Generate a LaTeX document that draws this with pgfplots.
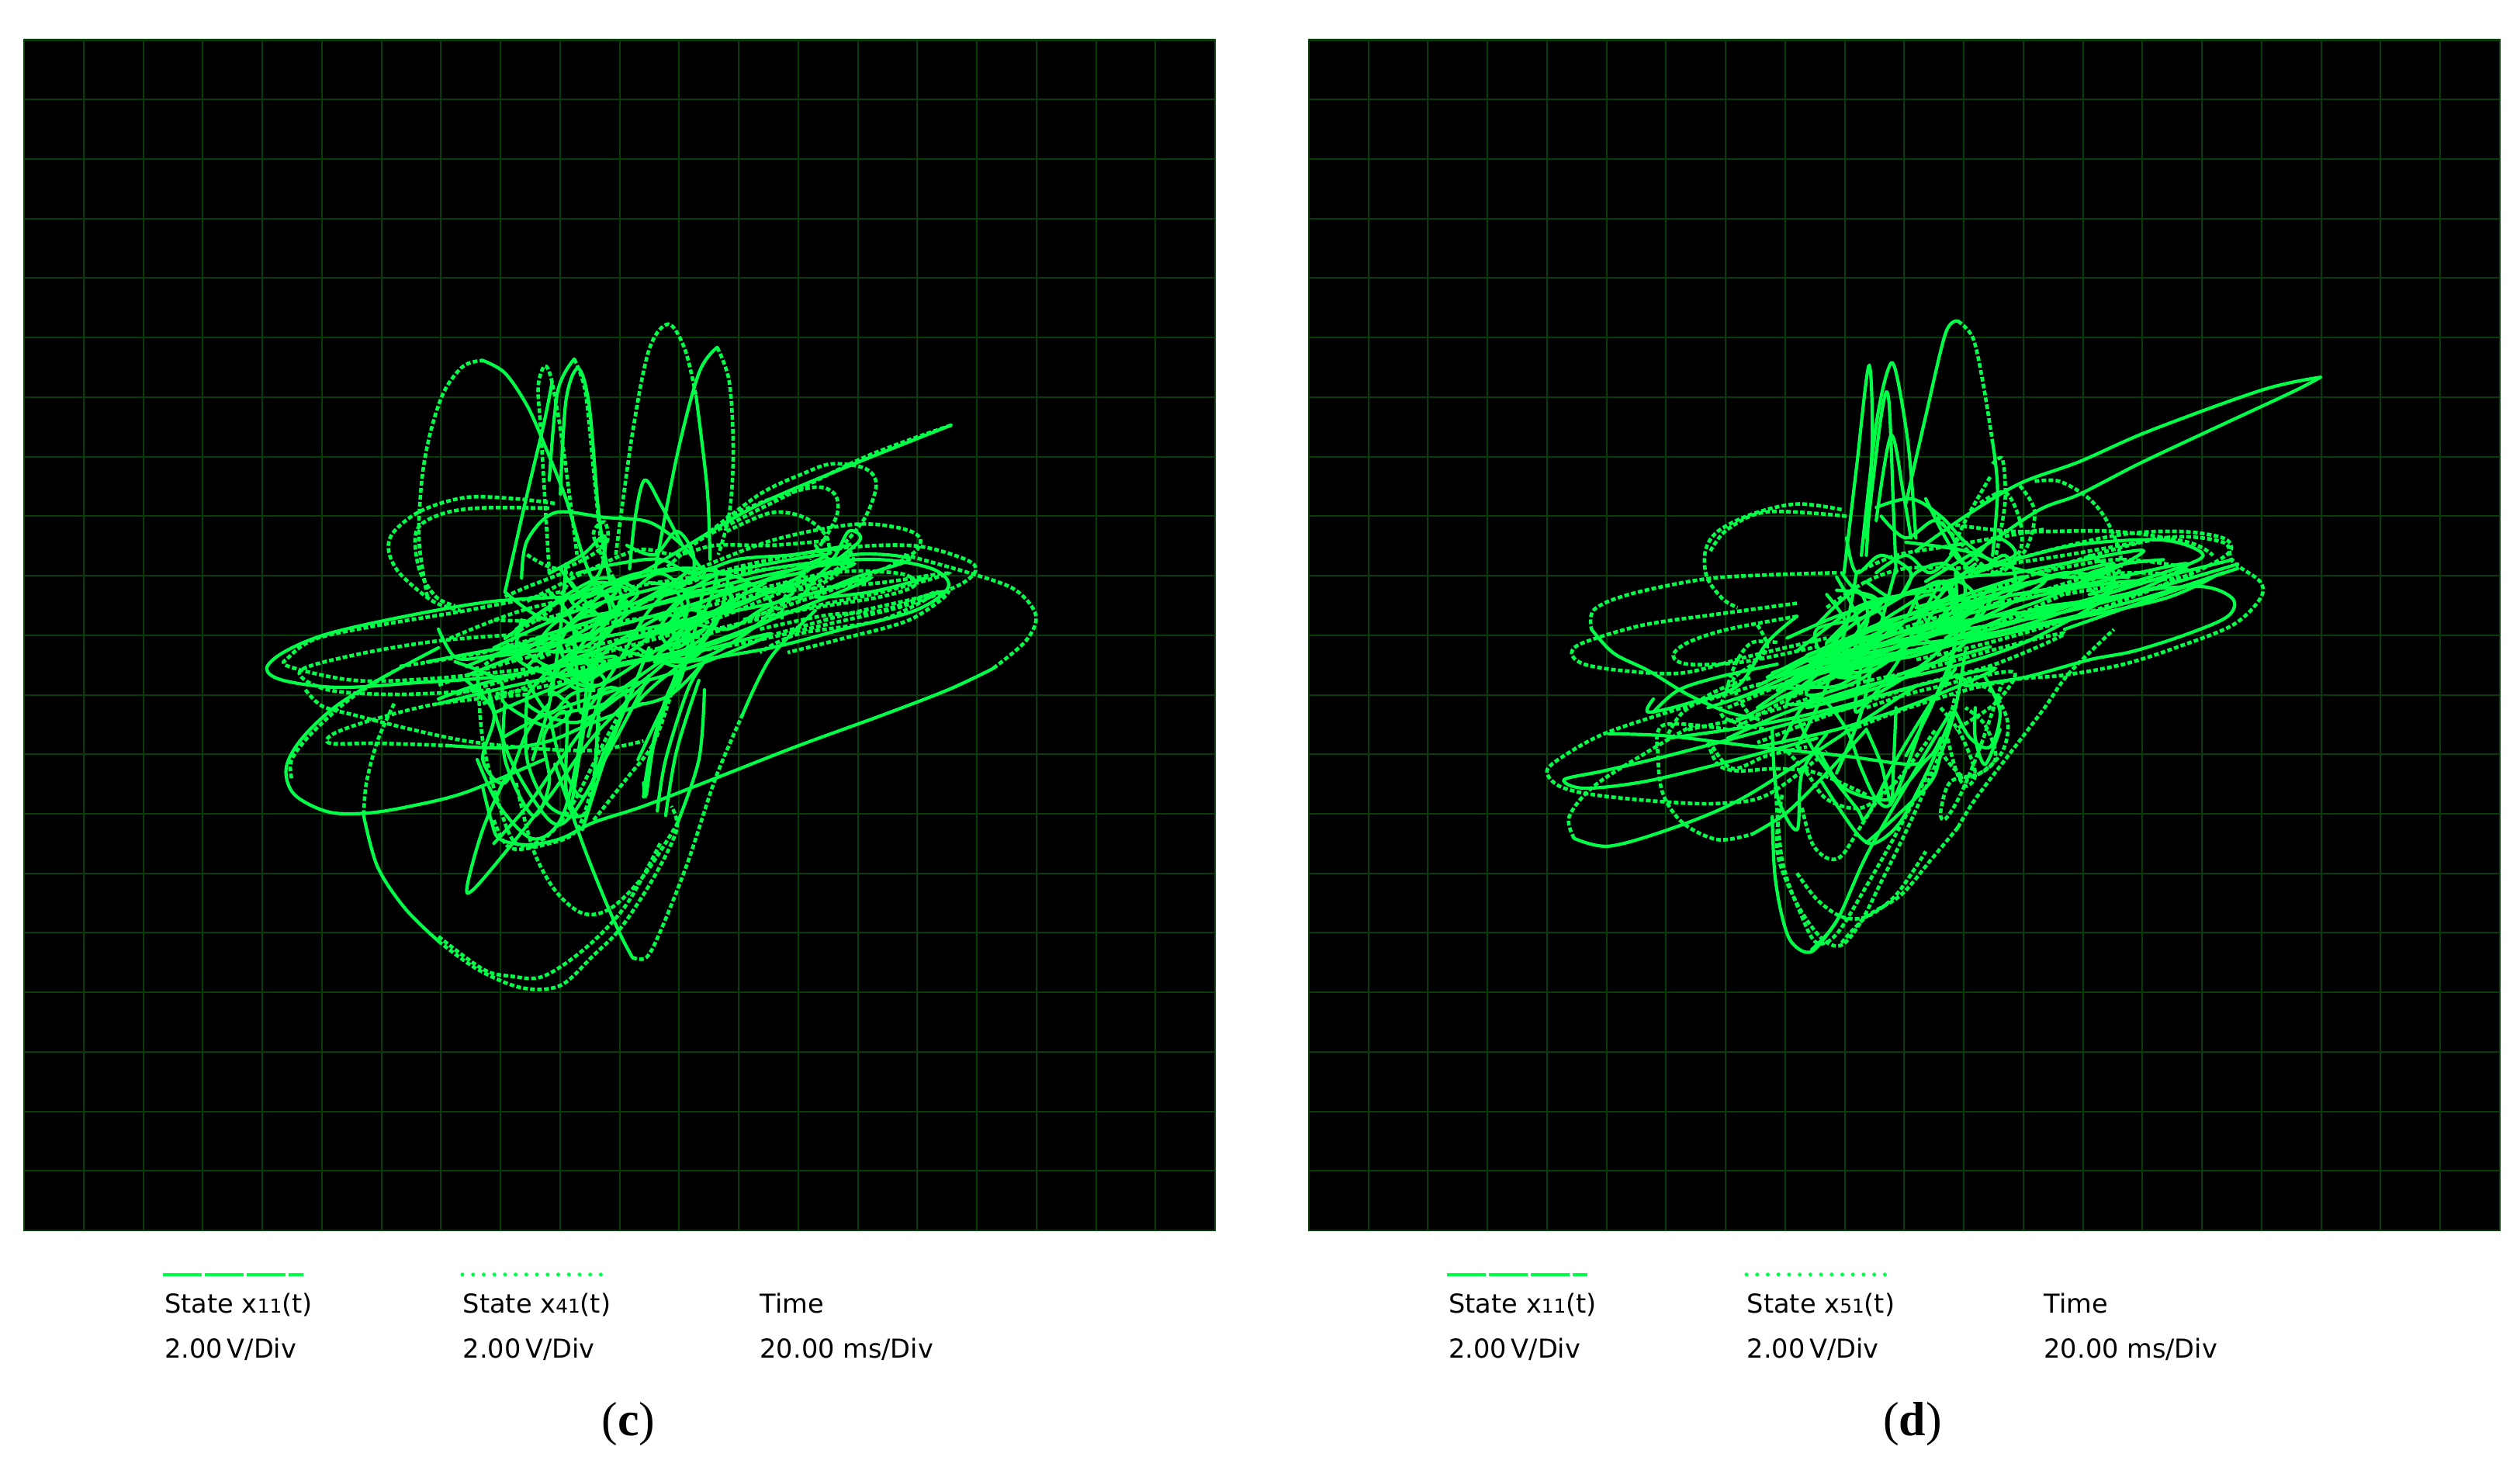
\documentclass[border=0pt]{standalone}
\usepackage{pgfplots}
\pgfplotsset{compat=1.18}
\usepackage{fontspec}
\setmainfont{DejaVu Sans}
\newfontfamily\capfont{Liberation Serif}
\definecolor{tr}{RGB}{0,255,72}
\definecolor{gg}{RGB}{8,60,8}
\pgfplotsset{
 s/.style={no marks,smooth,tension=0.55,draw=tr,line width=1.05pt,line cap=round},
 d/.style={s,line width=1.15pt,line cap=butt,dash pattern=on 1.5pt off 0.75pt},
 scope/.style={scale only axis,width=383.75pt,height=383.6pt,
  y dir=reverse,major tick length=0pt,xticklabels={},yticklabels={},
  grid=major,grid style={color=gg,line width=0.5pt},
  axis line style={color=gg,line width=0.65pt},
  axis background/.style={fill=black},clip=true},
}
\newcommand{\lab}[3]{%
 \draw[tr,line width=1.15pt,dash pattern=on 12.6pt off 0.9pt] (#1pt+52.5pt,474.75pt-410.7pt) -- ++(45.2pt,0);
 \draw[tr,line width=1.25pt,line cap=round,dash pattern=on 0pt off 3.43pt] (#1pt+149pt,474.75pt-410.7pt) -- ++(45.2pt,0);
 \node[anchor=base west,inner sep=0,font=\fontsize{8.4}{10}\selectfont] at (#1pt+52.9pt,474.75pt-423pt) {State x{\fontsize{6.2}{7}\selectfont 11}(t)};
 \node[anchor=base west,inner sep=0,font=\fontsize{8.4}{10}\selectfont] at (#1pt+149pt,474.75pt-423pt) {State x{\fontsize{6.2}{7}\selectfont #2}(t)};
 \node[anchor=base west,inner sep=0,font=\fontsize{8.4}{10}\selectfont] at (#1pt+244.7pt,474.75pt-423pt) {Time};
 \node[anchor=base west,inner sep=0,font=\fontsize{8.4}{10}\selectfont] at (#1pt+52.9pt,474.75pt-437.6pt) {2.00\,V/Div};
 \node[anchor=base west,inner sep=0,font=\fontsize{8.4}{10}\selectfont] at (#1pt+149pt,474.75pt-437.6pt) {2.00\,V/Div};
 \node[anchor=base west,inner sep=0,font=\fontsize{8.4}{10}\selectfont] at (#1pt+244.7pt,474.75pt-437.6pt) {20.00 ms/Div};
 \node[anchor=center,inner sep=0,font=\capfont\fontsize{15.5}{17}\selectfont] at (#1pt+202.5pt,474.75pt-459pt) {(\textbf{#3})};
}
\begin{document}
\begin{tikzpicture}[x=1pt,y=1pt]
\path[use as bounding box] (0,0) rectangle (812,474.75);
\begin{axis}[scope,at={(7.75pt,78.25pt)},anchor=south west,
 xmin=-347.8,xmax=1801.3,ymin=-545,ymax=2011,
 xtick={-347.8,-240.34,...,1802},ytick={-545,-417.2,...,2012}]
\addplot[s] coordinates {(1325,282)(1150,365)(1000,440)(920,490)(850,540)(780,590)(700,640)};
\addplot[d] coordinates {(1325,282)(1180,345)(1050,420)(950,480)(870,530)(800,600)};
\addplot[d] coordinates {(1240,560)(1360,600)(1440,635)(1478,690)(1460,745)(1400,805)};
\addplot[s] coordinates {(1400,805)(1320,850)(1200,905)(1050,970)(900,1040)(770,1100)(680,1135)(620,1170)(560,1183)(510,1170)(495,1130)(480,1060)};
\addplot[s] coordinates {(590,1000)(450,1070)(350,1100)(270,1115)(200,1112)(140,1075)(125,1020)(150,960)(210,890)(290,830)(400,760)};
\addplot[d] coordinates {(135,1040)(135,1000)(170,945)(240,870)(320,810)};
\addplot[d] coordinates {(380,650)(365,530)(370,400)(385,300)(410,210)(445,155)(480,143)};
\addplot[s] coordinates {(480,143)(520,170)(560,240)(590,320)(630,440)(660,560)(690,650)};
\addplot[d] coordinates {(610,450)(540,440)(450,437)(370,465)(320,510)(310,550)(330,600)(390,660)(440,680)};
\addplot[d] coordinates {(600,460)(470,460)(400,475)(360,510)(365,590)(395,650)(430,670)};
\addplot[s] coordinates {(520,640)(560,430)(590,280)(605,190)};
\addplot[d] coordinates {(600,600)(585,300)(580,200)(592,155)(605,190)(625,330)(650,560)};
\addplot[s] coordinates {(600,400)(615,210)(645,140)};
\addplot[d] coordinates {(645,140)(665,210)(680,380)(695,560)};
\addplot[s] coordinates {(620,430)(630,230)(652,160)(672,240)(690,480)(710,620)};
\addplot[d] coordinates {(720,560)(750,300)(780,120)(815,65)(845,120)(865,220)};
\addplot[s] coordinates {(865,220)(885,420)(890,570)};
\addplot[s] coordinates {(790,600)(830,350)(870,170)(903,115)};
\addplot[d] coordinates {(903,115)(925,190)(932,340)(925,470)(905,560)};
\addplot[s] coordinates {(745,590)(755,480)(772,400)(800,450)(840,540)};
\addplot[d] coordinates {(880,520)(980,430)(1060,385)(1110,365)(1170,375)(1190,410)(1170,480)(1130,540)};
\addplot[d] coordinates {(920,480)(1000,440)(1080,415)(1115,430)(1120,470)(1100,520)(1070,570)};
\addplot[d] coordinates {(920,510)(1000,470)(1060,480)(1100,520)(1105,560)};
\addplot[s] coordinates {(550,610)(560,530)(610,470)(700,480)(780,490)(840,540)(880,600)};
\addplot[d] coordinates {(700,700)(900,600)(1100,550)(1250,540)(1340,565)(1370,590)(1340,625)(1240,670)(1100,710)(950,750)(800,780)};
\addplot[d] coordinates {(850,600)(1000,530)(1150,495)(1240,505)(1270,530)(1240,570)(1100,640)(950,700)};
\addplot[s] coordinates {(800,650)(1000,590)(1180,570)(1290,590)(1320,630)(1260,680)(1130,720)(1000,760)(850,790)};
\addplot[d] coordinates {(900,660)(1100,600)(1230,600)(1260,625)(1200,650)(1050,680)(900,720)};
\addplot[s] coordinates {(650,650)(500,660)(350,690)(200,730)(120,770)(90,805)(120,830)(220,845)(360,835)(520,820)(700,780)};
\addplot[d] coordinates {(620,640)(450,680)(300,710)(180,740)(130,780)(130,800)(250,830)(400,825)(600,800)};
\addplot[d] coordinates {(560,730)(400,745)(250,775)(150,810)(200,850)(330,860)(500,850)};
\addplot[d] coordinates {(560,860)(400,880)(280,915)(210,945)(205,965)(290,965)(420,970)};
\addplot[s] coordinates {(420,970)(520,975)(600,960)(680,920)(770,880)};
\addplot[d] coordinates {(160,850)(190,885)(250,905)(350,935)(450,960)(560,975)(680,980)(770,960)};
\addplot[d] coordinates {(320,880)(290,960)(270,1050)(265,1120)};
\addplot[s] coordinates {(265,1120)(290,1230)(340,1320)(400,1390)};
\addplot[d] coordinates {(400,1390)(470,1450)(550,1490)(620,1485)(680,1420)(730,1360)(790,1250)(830,1150)(820,1100)};
\addplot[d] coordinates {(400,1380)(480,1450)(530,1465)(590,1465)(670,1400)(740,1310)(800,1180)};
\addplot[s] coordinates {(610,1010)(660,1180)(700,1300)(730,1380)(750,1425)};
\addplot[d] coordinates {(750,1425)(775,1425)(800,1370)(850,1220)(900,1040)(950,900)};
\addplot[s] coordinates {(950,900)(1000,780)(1080,680)};
\addplot[d] coordinates {(540,1050)(570,1190)(610,1280)(660,1330)(710,1320)(770,1250)(830,1140)};
\addplot[s] coordinates {(830,1140)(870,1000)(880,850)};
\addplot[s] coordinates {(520,1040)(480,1150)(452,1270)(462,1280)(520,1200)(600,1080)(680,950)(780,830)};
\addplot[s] coordinates {(500,1180)(560,1100)(620,1000)(700,880)(800,790)};
\addplot[d] coordinates {(500,1130)(530,1190)(600,1180)(650,1150)(680,1040)(690,900)};
\addplot[s] coordinates {(470,1000)(510,1100)(570,1170)(620,1130)(650,1000)(670,820)};
\addplot[d] coordinates {(470,800)(480,960)(510,1100)(540,1180)(590,1170)(640,1100)(700,960)(760,830)};
\addplot[s] coordinates {(490,850)(530,1000)(600,1130)(640,1120)(700,1000)(780,820)};
\addplot[s] coordinates {(560,860)(560,1000)(600,1100)(660,1120)(680,1050)(690,850)};
\addplot[s] coordinates {(770,1080)(780,1000)(810,870)(840,800)};
\addplot[s] coordinates {(770,1050)(775,1075)(790,960)(830,810)};
\addplot[s] coordinates {(795,1110)(810,1000)(850,850)(880,790)};
\addplot[s] coordinates {(810,1120)(830,980)(870,830)};
\addplot[d] coordinates {(680,1130)(740,1040)(790,960)(830,820)};
% central mass
\addplot[s] coordinates {(450,800)(600,730)(750,680)(900,630)(1050,590)(1150,580)(1050,620)(900,680)(750,740)(600,800)(470,840)(400,870)};
\addplot[s] coordinates {(500,760)(650,680)(800,630)(950,590)(1100,560)(1000,610)(850,670)(700,720)(560,770)(450,820)};
\addplot[s] coordinates {(520,740)(620,660)(720,620)(850,590)(780,650)(680,700)(600,740)(540,780)(620,820)(760,790)(900,750)(1000,700)};
\addplot[s] coordinates {(540,720)(640,640)(700,610)(760,640)(720,680)(650,700)(620,760)(660,830)(720,790)(800,720)(880,660)(960,620)};
\addplot[s] coordinates {(560,800)(700,640)(730,660)(680,720)(640,800)(690,840)(800,760)(880,700)(930,650)(860,640)(800,720)(840,790)};
\addplot[s] coordinates {(600,640)(640,700)(650,820)(660,900)(720,800)(780,680)(830,640)(850,760)(830,850)};
\addplot[s] coordinates {(640,620)(700,700)(740,650)(800,600)(850,660)(820,770)(770,830)(700,880)(620,900)};
\addplot[s] coordinates {(520,640)(600,700)(680,640)(760,600)(870,590)(960,620)(1000,680)(900,770)(820,790)(720,760)};
\addplot[d] coordinates {(420,740)(550,680)(700,640)(850,610)(1000,590)(1150,570)(1000,650)(850,720)(700,770)(550,820)(430,860)};
\addplot[s] coordinates {(380,790)(520,760)(680,740)(850,700)(1020,660)(1180,610)(1020,690)(860,760)(700,800)(540,840)(400,880)};
\addplot[d] coordinates {(330,800)(480,770)(640,720)(800,690)(960,650)(1120,600)(960,700)(800,760)(640,810)(480,880)};
\addplot[s] coordinates {(620,590)(660,650)(700,640)(720,700)(680,760)(630,780)(600,860)(650,830)(700,770)(760,720)(820,690)(860,750)(830,780)};
\addplot[s] coordinates {(640,650)(720,640)(660,690)(700,660)(750,640)(690,620)(640,660)(700,690)(740,660)};
\addplot[s] coordinates {(790,730)(860,700)(830,760)(880,720)(800,770)(850,780)(900,700)(840,680)(800,740)};
\addplot[s] coordinates {(620,800)(700,790)(640,840)(680,850)(600,810)(660,790)(720,780)(660,830)};
\addplot[s] coordinates {(550,700)(540,780)(590,740)(650,760)(600,800)(540,750)};
\addplot[d] coordinates {(560,560)(620,590)(700,540)(700,490)(680,520)(720,620)};
\addplot[d] coordinates {(900,620)(1000,640)(1100,610)(1150,540)(1100,560)(1030,640)(1020,700)};
\addplot[d] coordinates {(980,720)(1100,690)(1200,680)(1300,640)(1200,700)(1050,730)(980,770)};
\addplot[d] coordinates {(520,650)(580,620)(640,600)(600,680)(550,720)(520,760)(480,800)};
\addplot[s] coordinates {(400,720)(430,780)(480,780)(560,760)};
\addplot[s] coordinates {(430,790)(510,830)(520,880)(600,930)(640,890)(600,850)};
\addplot[s] coordinates {(630,580)(620,720)(600,880)(570,1000)};
\addplot[s] coordinates {(700,690)(670,880)(640,1100)};
\addplot[s] coordinates {(880,620)(850,780)(800,900)(760,1000)};
% extra density
\addplot[s] coordinates {(500,900)(600,850)(720,800)(860,770)(1000,730)(860,800)(720,850)(600,900)(520,950)};
\addplot[s] coordinates {(480,780)(600,760)(700,700)(820,660)(940,630)(1060,600)(940,670)(820,720)(700,760)(600,830)};
\addplot[s] coordinates {(560,830)(600,900)(640,860)(700,830)(640,780)(590,820)(560,880)(650,920)(740,850)};
\addplot[s] coordinates {(680,610)(710,680)(670,740)(620,700)(580,760)(660,760)(760,670)(840,620)(900,590)(880,680)(810,730)};
\addplot[s] coordinates {(800,700)(850,640)(920,600)(900,710)(850,760)(790,790)(830,730)(900,680)(990,620)};
\addplot[s] coordinates {(760,760)(830,800)(880,760)(800,830)(760,880)(820,860)(880,790)};
\addplot[s] coordinates {(650,600)(720,580)(800,570)(860,600)(940,570)(1040,560)(1140,540)};
\addplot[d] coordinates {(560,660)(660,600)(760,550)(830,560)(900,540)(1000,540)(1100,530)};
\addplot[d] coordinates {(1000,640)(1100,630)(1200,620)(1320,600)(1200,640)(1080,670)(1000,690)};
\addplot[s] coordinates {(1050,600)(1150,560)(1250,570)(1150,610)(1080,650)(1180,640)(1280,610)};
\addplot[d] coordinates {(1010,730)(1130,690)(1240,660)(1320,640)(1250,700)(1130,740)(1030,770)};
\addplot[s] coordinates {(1080,540)(1110,570)(1140,510)(1160,530)(1090,600)(1050,660)};
\addplot[s] coordinates {(450,830)(500,900)(480,1000)(520,1050)(560,940)(600,880)};
\addplot[s] coordinates {(520,880)(520,1000)(570,1120)(600,1050)(590,950)(630,900)(630,1060)(650,1120)};
\addplot[s] coordinates {(600,900)(620,1000)(660,1080)(700,980)(740,870)(700,850)(670,950)};
\addplot[s] coordinates {(780,760)(740,880)(700,1000)(660,1150)};
\addplot[d] coordinates {(400,840)(500,800)(600,770)(700,750)(800,720)(700,800)(600,840)(500,860)};
\addplot[d] coordinates {(500,700)(580,700)(660,670)(740,620)(700,710)(640,750)(570,790)};
\addplot[s] coordinates {(840,700)(920,720)(980,680)(1040,640)(960,640)(900,700)(860,780)};
\addplot[s] coordinates {(600,600)(660,560)(700,520)(690,600)(640,660)};
\addplot[s] coordinates {(740,540)(790,560)(830,510)(860,560)(850,620)(780,620)};
\end{axis}
\begin{axis}[scope,at={(421.7pt,78.25pt)},anchor=south west,
 xmin=-426,xmax=1979,ymin=-583.5,ymax=2150.5,
 xtick={-426,-305.75,...,1980},ytick={-583.5,-446.8,...,2151}]
\addplot[s] coordinates {(1617,191)(1500,220)(1270,315)(1130,385)(1010,435)(900,510)(800,590)};
\addplot[s] coordinates {(1617,191)(1560,225)(1390,315)(1250,390)(1130,460)(1050,495)(950,570)(820,660)};
\addplot[s] coordinates {(780,480)(820,280)(860,90)(885,62)};
\addplot[d] coordinates {(885,62)(915,100)(935,200)(955,340)};
\addplot[s] coordinates {(955,340)(965,450)(955,600)};
\addplot[s] coordinates {(655,640)(680,400)(705,165)(712,330)(700,600)};
\addplot[s] coordinates {(690,600)(720,300)(745,170)(760,180)(785,350)(800,560)};
\addplot[s] coordinates {(700,560)(730,280)(745,240)(755,500)(760,640)};
\addplot[s] coordinates {(720,520)(750,325)(775,460)(790,560)};
\addplot[d] coordinates {(650,495)(560,482)(470,505)(400,545)(375,590)(378,650)(410,700)(440,720)};
\addplot[d] coordinates {(660,510)(500,500)(420,540)(385,590)};
\addplot[d] coordinates {(640,640)(500,645)(370,655)(220,690)(150,725)(145,770)};
\addplot[s] coordinates {(145,770)(190,825)(260,865)(340,920)(420,960)(480,975)};
\addplot[d] coordinates {(560,710)(400,735)(250,760)(130,800)(105,825)(130,850)(210,865)(330,870)(470,830)(620,790)};
\addplot[d] coordinates {(560,740)(420,770)(340,800)(310,830)(340,850)(450,845)(600,810)};
\addplot[d] coordinates {(500,890)(300,960)(170,1010)(90,1060)(55,1095)(80,1130)(150,1150)(280,1165)(400,1170)(500,1150)(620,1050)};
\addplot[s] coordinates {(700,940)(500,1000)(300,1060)(170,1095)(90,1115)(130,1135)(250,1120)(400,1080)(600,1020)};
\addplot[s] coordinates {(800,900)(560,1080)(430,1170)(300,1230)(180,1268)(110,1250)};
\addplot[d] coordinates {(110,1250)(100,1200)(150,1130)(260,1050)(350,990)};
\addplot[d] coordinates {(420,1000)(290,990)(280,1070)(290,1150)(330,1215)(400,1253)(470,1240)};
\addplot[s] coordinates {(470,1240)(540,1190)(620,1100)(700,1000)};
\addplot[s] coordinates {(180,1010)(300,1015)(480,1040)(650,1060)(790,1080)(830,1060)(850,1020)};
\addplot[d] coordinates {(900,700)(1100,620)(1300,560)(1420,570)(1440,615)(1495,660)(1495,700)(1440,760)(1330,810)(1220,850)(1100,875)(1000,885)(900,910)(760,960)(650,1010)};
\addplot[s] coordinates {(1250,680)(1380,672)(1440,700)(1430,740)(1350,780)(1240,820)(1150,840)(1020,880)(900,900)};
\addplot[d] coordinates {(800,690)(1000,610)(1200,555)(1330,545)(1420,560)(1435,590)(1380,630)(1250,690)(1100,750)(950,800)(800,840)};
\addplot[s] coordinates {(520,880)(700,810)(900,770)(1100,730)(1300,670)(1450,620)};
\addplot[s] coordinates {(540,890)(720,820)(920,785)(1120,740)(1300,685)(1450,630)};
\addplot[s] coordinates {(510,870)(700,795)(900,750)(1100,715)(1300,650)(1440,610)};
\addplot[s] coordinates {(530,900)(710,835)(900,800)(1100,750)(1300,700)(1400,650)};
\addplot[s] coordinates {(1100,770)(1300,690)(1420,640)};
\addplot[d] coordinates {(650,1490)(700,1430)(770,1380)(830,1300)(885,1225)};
\addplot[d] coordinates {(885,1225)(920,1160)(1000,1040)(1060,950)(1110,870)(1200,770)};
\addplot[s] coordinates {(510,1200)(515,1330)(530,1430)(550,1490)(590,1510)(640,1440)};
\addplot[d] coordinates {(530,1150)(520,1280)(560,1400)(610,1480)(650,1495)(690,1440)(730,1350)(790,1210)(850,1050)(880,920)};
\addplot[d] coordinates {(560,1330)(600,1390)(650,1430)(700,1430)(760,1380)(820,1280)};
\addplot[s] coordinates {(590,1505)(640,1440)(700,1290)(780,1130)(870,960)};
\addplot[d] coordinates {(515,1100)(530,1300)(570,1430)(600,1490)(640,1470)(700,1360)(760,1240)(830,1090)};
\addplot[d] coordinates {(570,1180)(590,1260)(620,1295)(650,1290)(690,1220)(740,1130)};
\addplot[s] coordinates {(610,1120)(650,1190)(690,1250)(720,1260)(770,1210)(830,1080)(880,950)};
\addplot[d] coordinates {(880,880)(950,910)(985,980)(975,1050)(930,1100)(870,1120)(850,1190)(860,1205)(890,1150)(930,1040)(975,890)};
\addplot[d] coordinates {(955,390)(975,380)(980,480)(960,610)};
\addplot[d] coordinates {(950,420)(900,520)(870,600)};
\addplot[d] coordinates {(1010,440)(1040,500)(1020,590)(960,640)};
\addplot[d] coordinates {(1040,430)(1090,430)(1150,470)(1190,530)(1215,620)(1180,680)};
\addplot[d] coordinates {(880,530)(1000,545)(1200,545)(1350,570)(1400,600)};
\addplot[s] coordinates {(1000,610)(1130,575)(1300,565)(1380,600)(1300,640)(1150,690)};
\addplot[d] coordinates {(1050,640)(1200,610)(1330,625)(1350,650)(1250,660)(1100,690)};
\addplot[s] coordinates {(780,570)(900,590)(1000,630)(1100,650)(1230,650)};
\addplot[d] coordinates {(930,480)(980,455)(1010,520)(1010,590)(960,640)(880,560)(820,480)};
\addplot[s] coordinates {(720,490)(790,470)(850,510)(900,570)(960,620)};
\addplot[s] coordinates {(510,1000)(520,1150)(560,1230)(570,1100)(620,1010)};
\addplot[s] coordinates {(900,820)(880,950)(850,1060)(830,1120)(760,1200)(700,1260)};
\addplot[s] coordinates {(760,950)(755,1080)(750,1170)(730,1080)(700,1000)};
\addplot[s] coordinates {(600,1040)(650,1130)(720,1160)(760,1150)(820,1070)};
\addplot[d] coordinates {(850,1050)(900,1110)(960,1070)(940,990)(900,950)};
\addplot[s] coordinates {(920,950)(920,1020)(940,1080)(970,1000)};
\addplot[d] coordinates {(380,1030)(400,1080)(440,1095)(520,1090)(600,1100)(700,1150)};
% central mass
\addplot[s] coordinates {(440,930)(600,850)(760,780)(920,730)(1100,680)(1250,660)(1100,720)(920,780)(760,830)(600,890)(440,980)};
\addplot[s] coordinates {(500,880)(640,800)(780,750)(930,700)(1080,650)(1200,620)(1060,700)(900,760)(740,820)(580,880)(480,950)};
\addplot[s] coordinates {(520,910)(660,800)(800,730)(900,690)(1020,650)(900,730)(760,790)(620,860)(540,940)(660,920)(800,860)(950,810)};
\addplot[s] coordinates {(560,820)(680,720)(780,690)(880,680)(800,740)(700,790)(620,840)(580,920)(680,890)(780,810)(860,760)(950,700)};
\addplot[s] coordinates {(640,680)(720,700)(680,780)(640,860)(720,860)(820,770)(880,720)(850,660)(800,700)(840,780)};
\addplot[s] coordinates {(540,790)(640,740)(730,710)(650,780)(590,860)(530,900)(600,900)(680,840)(760,760)};
\addplot[s] coordinates {(640,650)(680,740)(690,840)(680,960)(760,850)(820,720)(860,660)(880,780)(860,900)};
\addplot[s] coordinates {(700,660)(760,700)(800,640)(860,620)(900,680)(860,800)(790,870)(700,930)(600,970)};
\addplot[d] coordinates {(420,950)(560,880)(700,800)(850,740)(1000,700)(1180,640)(1000,740)(850,800)(700,850)(560,920)(430,1000)};
\addplot[s] coordinates {(380,950)(520,900)(680,850)(850,810)(1020,760)(1180,700)(1020,800)(860,860)(700,900)(540,960)(420,1020)};
\addplot[d] coordinates {(340,1000)(500,960)(660,900)(820,860)(980,810)(1100,780)(960,850)(800,900)(640,960)(480,1030)};
\addplot[s] coordinates {(300,1020)(480,990)(640,950)(800,900)(960,860)(800,940)(640,1000)(480,1040)};
\addplot[s] coordinates {(620,690)(660,760)(620,800)(700,720)(740,760)(680,820)(610,850)(580,830)(680,790)(760,730)(830,690)(860,750)(790,780)};
\addplot[s] coordinates {(800,720)(880,700)(840,760)(900,740)(820,790)(870,800)(930,720)(860,700)(820,760)};
\addplot[s] coordinates {(600,830)(700,790)(630,870)(680,880)(590,850)(660,800)(720,790)(660,860)};
\addplot[s] coordinates {(880,590)(920,640)(980,600)(1000,670)(940,720)(870,680)(920,620)};
\addplot[s] coordinates {(1000,680)(1100,640)(1200,660)(1160,700)(1050,720)(1000,750)};
\addplot[s] coordinates {(680,640)(660,760)(620,900)(560,1040)};
\addplot[s] coordinates {(760,630)(720,800)(690,960)(640,1100)};
\addplot[s] coordinates {(880,640)(880,800)(830,950)(780,1060)};
\addplot[d] coordinates {(520,800)(470,800)(440,840)(420,900)(410,970)(500,1000)};
\addplot[s] coordinates {(560,740)(500,800)(440,900)(340,940)(260,960)(270,930)};
% extra density
\addplot[s] coordinates {(660,560)(680,640)(730,600)(790,640)(760,700)(690,690)(650,640)};
\addplot[s] coordinates {(730,510)(780,560)(840,520)(880,580)(830,640)(780,600)(720,640)};
\addplot[s] coordinates {(820,470)(860,560)(900,620)(960,560)(1000,600)(900,640)(850,680)};
\addplot[d] coordinates {(680,640)(760,600)(860,580)(960,560)(1060,540)};
\addplot[d] coordinates {(620,720)(700,660)(780,630)(880,630)(980,620)(1100,600)(1250,570)};
\addplot[s] coordinates {(700,720)(800,680)(900,650)(1000,640)(1140,610)(1260,590)(1140,660)(1000,690)(880,720)};
\addplot[s] coordinates {(1000,690)(1130,670)(1250,640)(1350,620)(1250,680)(1130,710)(1020,740)};
\addplot[d] coordinates {(1100,650)(1240,640)(1330,650)(1240,690)(1120,720)};
\addplot[s] coordinates {(1150,600)(1200,640)(1180,700)(1140,650)(1220,620)(1300,610)};
\addplot[s] coordinates {(480,900)(600,830)(720,760)(840,720)(960,680)(1060,660)(940,740)(800,790)(660,860)(520,930)};
\addplot[s] coordinates {(550,870)(650,830)(760,800)(880,760)(1000,730)(880,790)(740,840)(620,880)(540,930)};
\addplot[s] coordinates {(560,900)(640,900)(720,850)(800,830)(900,800)(800,870)(680,920)(580,950)};
\addplot[s] coordinates {(600,760)(680,680)(700,760)(620,830)(600,770)(700,740)(800,680)(770,760)(700,810)};
\addplot[s] coordinates {(830,720)(880,660)(920,700)(860,760)(820,720)(900,720)(960,670)(930,740)(860,790)};
\addplot[d] coordinates {(700,950)(780,920)(850,900)(920,880)(1000,870)(960,940)(880,1000)};
\addplot[s] coordinates {(530,1030)(570,950)(610,930)(660,1000)(690,1090)(720,1160)(750,1170)(790,1060)(820,960)};
\addplot[s] coordinates {(560,970)(600,1060)(680,1180)(700,1200)(760,1070)(830,940)(880,860)};
\addplot[d] coordinates {(540,1050)(580,1100)(620,1160)(690,1180)(760,1120)(840,1000)};
\addplot[d] coordinates {(850,950)(890,1010)(920,1100)(900,1130)(880,1090)(860,1000)};
\addplot[s] coordinates {(940,880)(970,960)(950,1040)(910,1020)(880,960)};
\addplot[d] coordinates {(480,760)(500,810)(470,850)(430,890)(460,960)(490,980)};
\addplot[d] coordinates {(300,1010)(330,960)(400,910)(470,880)};
\addplot[s] coordinates {(270,960)(320,910)(400,880)(520,850)};
\addplot[d] coordinates {(390,1040)(430,1090)(500,1060)(580,1040)};
\end{axis}
\lab{0}{41}{c}
\lab{413.75}{51}{d}
\end{tikzpicture}
\end{document}
